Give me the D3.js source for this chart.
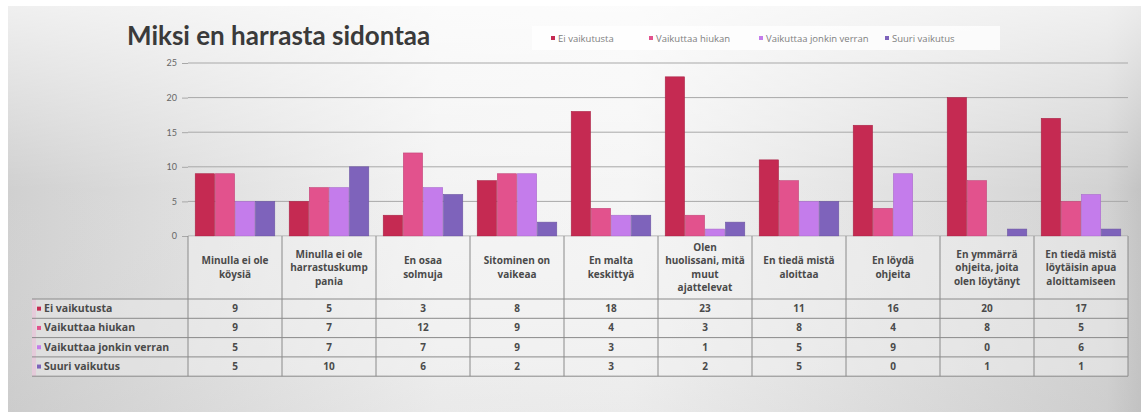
<!DOCTYPE html>
<html>
<head>
<meta charset="utf-8">
<script src="https://cdn.jsdelivr.net/npm/d3@7"></script>
<style>
  body { margin: 0; padding: 0; overflow: hidden; background: #fff; }
  svg { display: block; font-family: "Open Sans", sans-serif; }
</style>
</head>
<body>
<div id="chart"></div>
<script>
// ---- DATA ----
let categories = [
    ["Minulla ei ole", "köysiä"],
    ["Minulla ei ole", "harrastuskump", "pania"],
    ["En osaa", "solmuja"],
    ["Sitominen on", "vaikeaa"],
    ["En malta", "keskittyä"],
    ["Olen", "huolissani, mitä", "muut", "ajattelevat"],
    ["En tiedä mistä", "aloittaa"],
    ["En löydä", "ohjeita"],
    ["En ymmärrä", "ohjeita, joita", "olen löytänyt"],
    ["En tiedä mistä", "löytäisin apua", "aloittamiseen"]
];
let seriesNames = ["Ei vaikutusta", "Vaikuttaa hiukan", "Vaikuttaa jonkin verran", "Suuri vaikutus"];
let eiVaikutusta = [9, 5, 3, 8, 18, 23, 11, 16, 20, 17];
let vaikuttaaHiukan = [9, 7, 12, 9, 4, 3, 8, 4, 8, 5];
let jonkinVerran = [5, 7, 7, 9, 3, 1, 5, 9, 0, 6];
let suuriVaikutus = [5, 10, 6, 2, 3, 2, 5, 0, 1, 1];
let yTicks = [0, 5, 10, 15, 20, 25];
let colors = ["#c52a52", "#e2528d", "#c47ceb", "#7e63bb"];

let values = [eiVaikutusta, vaikuttaaHiukan, jonkinVerran, suuriVaikutus];

// ---- CHART AREA ----
let W = 1141, H = 412;
let plot = {left: 188, right: 1128, top: 63, bottom: 236};

let svg = d3.select("#chart").append("svg")
    .attr("width", W)
    .attr("height", H);

// background: grey panel, light in the middle, darker at the sides
let defs = svg.append("defs");
let gradH = defs.append("linearGradient").attr("id", "bgH")
    .attr("x1", "0%").attr("x2", "100%").attr("y1", "0%").attr("y2", "0%");
gradH.append("stop").attr("offset", "0%").attr("stop-color", "#cbcbcb");
gradH.append("stop").attr("offset", "38%").attr("stop-color", "#f2f2f2");
gradH.append("stop").attr("offset", "55%").attr("stop-color", "#f4f4f4");
gradH.append("stop").attr("offset", "97%").attr("stop-color", "#cdcdcd");
gradH.append("stop").attr("offset", "100%").attr("stop-color", "#bdbdbd");

let gradV = defs.append("linearGradient").attr("id", "bgV")
    .attr("x1", "0%").attr("x2", "0%").attr("y1", "0%").attr("y2", "100%");
gradV.append("stop").attr("offset", "0%").attr("stop-color", "#ffffff").attr("stop-opacity", 0.7);
gradV.append("stop").attr("offset", "45%").attr("stop-color", "#ffffff").attr("stop-opacity", 0.1);
gradV.append("stop").attr("offset", "100%").attr("stop-color", "#d0d0d0").attr("stop-opacity", 0.25);

svg.append("rect").attr("x", 8).attr("y", 6).attr("width", W - 8).attr("height", H - 6)
    .attr("fill", "url(#bgH)");
svg.append("rect").attr("x", 8).attr("y", 6).attr("width", W - 8).attr("height", H - 6)
    .attr("fill", "url(#bgV)");

// title
svg.append("text")
    .attr("x", 127).attr("y", 45)
    .attr("font-family", "Lato, sans-serif")
    .attr("font-size", 26).attr("font-weight", "bold")
    .attr("fill", "#3a3a3a")
    .text("Miksi en harrasta sidontaa");

// legend
let legendX = [551, 649, 759, 885];
let legend = svg.append("g");
legend.append("rect")
    .attr("x", 532).attr("y", 26).attr("width", 468).attr("height", 24)
    .attr("fill", "#ffffff").attr("opacity", 0.75);
seriesNames.forEach((s, i) => {
    legend.append("rect")
        .attr("x", legendX[i]).attr("y", 36).attr("width", 4).attr("height", 4)
        .attr("fill", colors[i]);
    legend.append("text")
        .attr("x", legendX[i] + 7).attr("y", 41.5)
        .attr("font-size", 9.5).attr("fill", "#808080")
        .text(s);
});

// ---- AXIS ----
let x = d3.scaleBand()
    .domain(d3.range(categories.length))
    .range([plot.left, plot.right]);

let xInner = d3.scaleBand()
    .domain(d3.range(seriesNames.length))
    .range([0, x.bandwidth()])
    .paddingInner(0.04)
    .paddingOuter(0.36);

let y = d3.scaleLinear()
    .domain([0, 25])
    .range([plot.bottom, plot.top]);

let yAxis = d3.axisLeft(y).tickValues(yTicks).tickSize(6).tickPadding(5);

// gridlines
svg.append("g")
    .selectAll("line")
    .data(yTicks)
    .enter().append("line")
    .attr("x1", plot.left).attr("x2", plot.right)
    .attr("y1", d => y(d)).attr("y2", d => y(d))
    .attr("stroke", "#a8a8a8").attr("stroke-width", 1);

let yAxisGroup = svg.append("g")
    .attr("transform", "translate(" + plot.left + ",0)")
    .call(yAxis);
yAxisGroup.select(".domain").remove();
yAxisGroup.selectAll("line").attr("stroke", "#a8a8a8");
yAxisGroup.selectAll("text").attr("font-size", 9).attr("fill", "#666")
    .attr("font-family", "Lato, sans-serif");

// ---- DRAW BARS ----
values.forEach((arr, si) => {
    svg.append("g")
        .selectAll("rect")
        .data(arr)
        .enter().append("rect")
        .attr("x", (d, i) => x(i) + xInner(si))
        .attr("y", d => y(d))
        .attr("width", xInner.bandwidth())
        .attr("height", d => y(0) - y(d))
        .attr("fill", colors[si])
        .attr("stroke", d3.color(colors[si]).darker(0.4))
        .attr("stroke-width", 0.6);
});

// ---- DATA TABLE ----
let tableTop = plot.bottom, headerBottom = 299, rowH = 19.3;
let labelLeft = 32;
let table = svg.append("g");

// cell backgrounds
table.append("rect")
    .attr("x", plot.left).attr("y", tableTop)
    .attr("width", plot.right - plot.left).attr("height", headerBottom - tableTop + rowH * 4)
    .attr("fill", "#f4f4f4").attr("opacity", 0.45);
table.append("rect")
    .attr("x", labelLeft).attr("y", headerBottom)
    .attr("width", plot.left - labelLeft).attr("height", rowH * 4)
    .attr("fill", "#e8e8e8").attr("opacity", 0.6);
table.append("rect")
    .attr("x", labelLeft).attr("y", headerBottom)
    .attr("width", 4).attr("height", rowH * 4)
    .attr("fill", "#e6c6d8").attr("opacity", 0.8);

// header text
categories.forEach((lines, i) => {
    let cx = x(i) + x.bandwidth() / 2;
    let lh = 13.5;
    let y0 = 271 - (lines.length - 1) * lh / 2;
    let t = table.append("text")
        .attr("text-anchor", "middle")
        .attr("font-size", 10).attr("font-weight", "bold")
        .attr("fill", "#4a4a4a");
    lines.forEach((l, k) => {
        t.append("tspan").attr("x", cx).attr("y", y0 + k * lh).text(l);
    });
});

// vertical lines
d3.range(categories.length + 1).forEach(i => {
    let xx = i < categories.length ? x(i) : plot.right;
    table.append("line")
        .attr("x1", xx).attr("x2", xx)
        .attr("y1", tableTop).attr("y2", headerBottom + rowH * 4)
        .attr("stroke", "#8a8a8a").attr("stroke-width", 1);
});

// horizontal lines
d3.range(5).forEach(r => {
    let yy = headerBottom + r * rowH;
    table.append("line")
        .attr("x1", labelLeft).attr("x2", plot.right)
        .attr("y1", yy).attr("y2", yy)
        .attr("stroke", "#8a8a8a").attr("stroke-width", 1);
});

// rows
values.forEach((arr, si) => {
    let cy = headerBottom + si * rowH + rowH / 2;
    table.append("rect")
        .attr("x", 37).attr("y", cy - 2).attr("width", 4).attr("height", 4)
        .attr("fill", colors[si]);
    table.append("text")
        .attr("x", 44).attr("y", cy + 3.5)
        .attr("font-size", 10.5).attr("font-weight", "bold")
        .attr("fill", "#4a4a4a")
        .text(seriesNames[si]);
    arr.forEach((v, i) => {
        table.append("text")
            .attr("x", x(i) + x.bandwidth() / 2).attr("y", cy + 3.5)
            .attr("text-anchor", "middle")
            .attr("font-size", 10).attr("font-weight", "bold")
            .attr("fill", "#4a4a4a")
            .text(v);
    });
});
</script>
</body>
</html>
